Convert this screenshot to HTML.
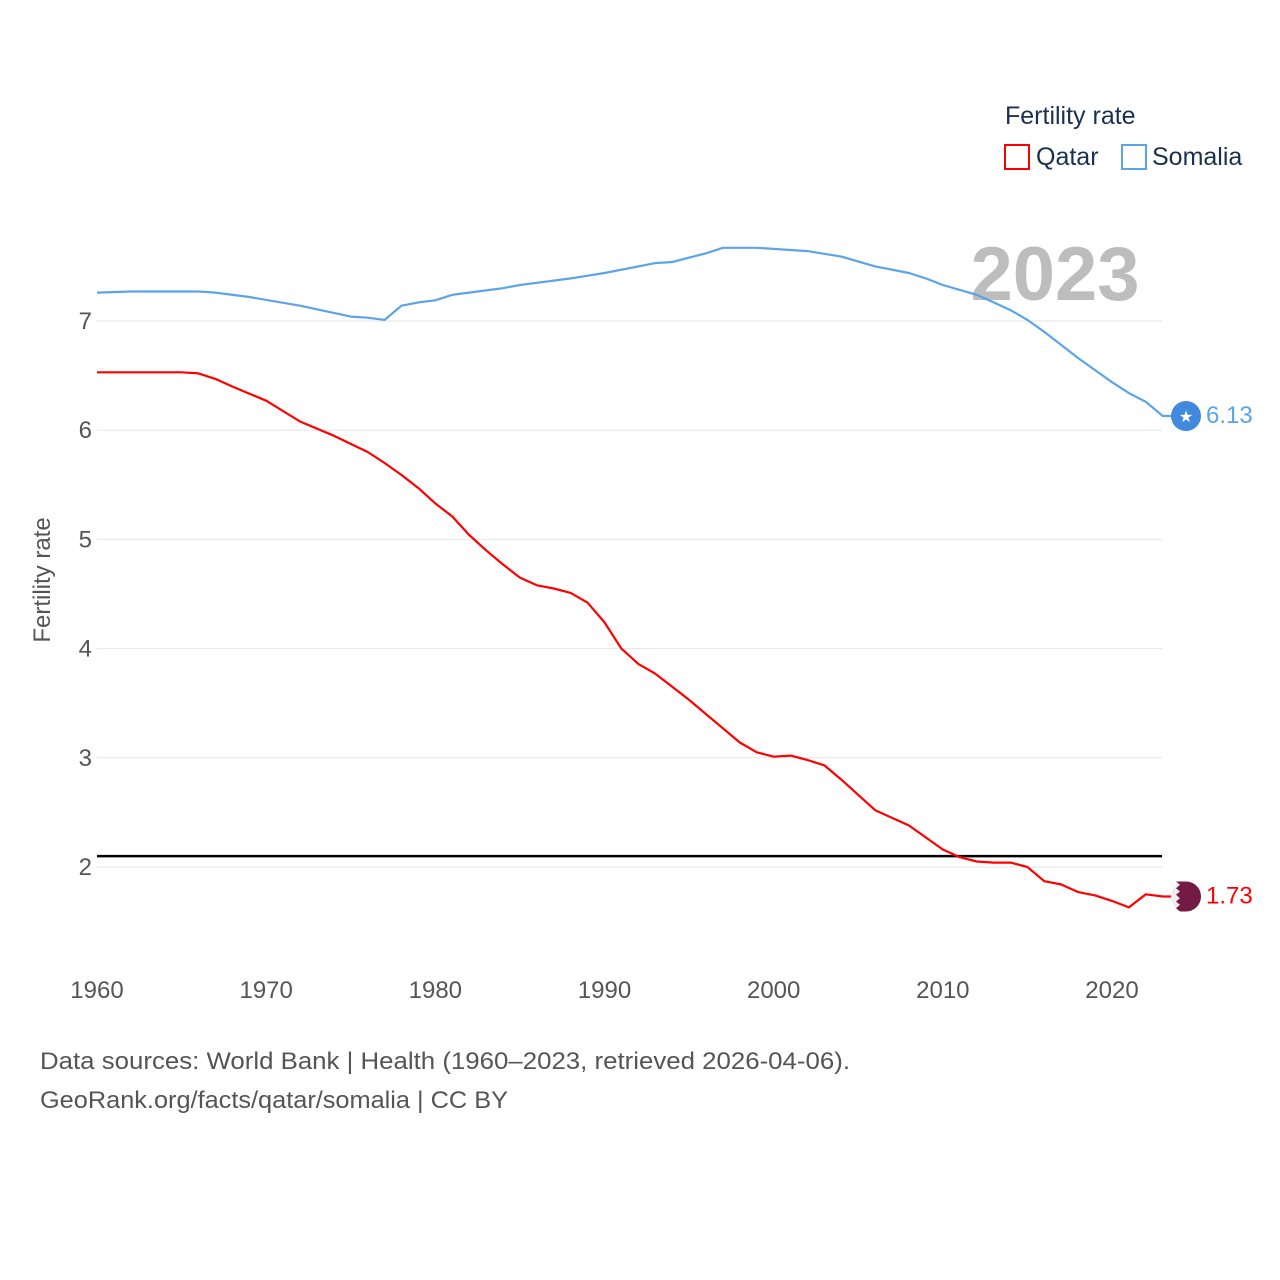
<!DOCTYPE html>
<html><head><meta charset="utf-8"><style>
body{margin:0;background:#fff;font-family:"Liberation Sans",sans-serif}
svg{display:block}
</style></head><body>
<svg id="chart" width="1280" height="1280">
<text x="1055" y="300" font-size="76" font-weight="bold" fill="#bdbdbd" text-anchor="middle">2023</text>
<g id="grid"></g>
<g id="xt"></g>
<text transform="translate(50,580) rotate(-90)" font-size="24" fill="#555" text-anchor="middle">Fertility rate</text>
<g>
<text x="1005" y="124" font-size="25" fill="#1a3050">Fertility rate</text>
<rect x="1005" y="145" width="24" height="24" fill="none" stroke="#f00" stroke-width="2"/>
<text x="1036" y="165" font-size="25" fill="#1a3050">Qatar</text>
<rect x="1122" y="145" width="24" height="24" fill="none" stroke="#5ba4ea" stroke-width="2"/>
<text x="1152" y="165" font-size="25" fill="#1a3050">Somalia</text>
</g>
<g id="series"></g>
<text x="40" y="1069" font-size="24" fill="#555" textLength="810" lengthAdjust="spacingAndGlyphs">Data sources: World Bank | Health (1960–2023, retrieved 2026-04-06).</text>
<text x="40" y="1108" font-size="24" fill="#555" textLength="468" lengthAdjust="spacingAndGlyphs">GeoRank.org/facts/qatar/somalia | CC BY</text>
</svg>
<script>
const somaliaKeys=[1960,1962,1966,1967,1969,1972,1975,1976,1977,1978,1979,1980,1981,1982,1983,1984,1985,1986,1987,1988,1990,1992,1993,1994,1996,1997,1999,2002,2004,2006,2008,2009,2010,2012,2013,2014,2015,2016,2017,2018,2019,2020,2021,2022,2023];
const somaliaVals=[7.26,7.27,7.27,7.26,7.22,7.14,7.04,7.03,7.01,7.14,7.17,7.19,7.24,7.26,7.28,7.30,7.33,7.35,7.37,7.39,7.44,7.50,7.53,7.54,7.62,7.67,7.67,7.64,7.59,7.50,7.44,7.39,7.33,7.24,7.17,7.10,7.01,6.90,6.78,6.66,6.55,6.44,6.34,6.26,6.13];
const qatarKeys=[1960,1965,1966,1967,1968,1970,1972,1974,1976,1977,1978,1979,1980,1981,1982,1983,1984,1985,1986,1987,1988,1989,1990,1991,1992,1993,1994,1995,1996,1997,1998,1999,2000,2001,2002,2003,2004,2005,2006,2007,2008,2009,2010,2011,2012,2013,2014,2015,2016,2017,2018,2019,2020,2021,2022,2023];
const qatarVals=[6.53,6.53,6.52,6.47,6.40,6.27,6.08,5.95,5.80,5.70,5.59,5.47,5.33,5.21,5.04,4.90,4.77,4.65,4.58,4.55,4.51,4.42,4.24,4.00,3.86,3.77,3.65,3.53,3.40,3.27,3.14,3.05,3.01,3.02,2.98,2.93,2.80,2.66,2.52,2.45,2.38,2.27,2.16,2.09,2.05,2.04,2.04,2.00,1.87,1.84,1.77,1.74,1.69,1.63,1.75,1.73];
const yTicks=[2,3,4,5,6,7];
const xTicks=[1960,1970,1980,1990,2000,2010,2020];
const replacement=2.1;
const X=y=>97+(y-1960)*(1112-97)/60;
const Y=v=>867-(v-2)*(867-321)/5;
const NS="http://www.w3.org/2000/svg";
function mk(t,a,p){const e=document.createElementNS(NS,t);for(const k in a)e.setAttribute(k,a[k]);p.appendChild(e);return e;}
const grid=document.getElementById('grid'),xt=document.getElementById('xt'),ser=document.getElementById('series');
yTicks.forEach(v=>{
 const l=mk('line',{x1:97,x2:1162,y1:Y(v),y2:Y(v),stroke:'#e6e6e6','stroke-width':1},grid);
 
 
 const t=mk('text',{x:92,y:Y(v)+8,'font-size':24,fill:'#555','text-anchor':'end'},grid);
 t.textContent=v;
 
 
});
xTicks.forEach(v=>{
 const t=mk('text',{x:X(v),y:998,'font-size':24,fill:'#555','text-anchor':'middle'},xt);
 t.textContent=v;
 
 
});
const ref=mk('line',{x1:97,x2:1162,y1:Y(replacement),y2:Y(replacement),stroke:'#000','stroke-width':2.5},ser);


function line(keys,vals,col,name){
 const d=keys.map((k,i)=>(i?'L':'M')+X(k).toFixed(1)+','+Y(vals[i]).toFixed(1)).join(' ')+' L1176,'+Y(vals[vals.length-1]).toFixed(1);
 const p=mk('path',{d:d,fill:'none',stroke:col,'stroke-width':2.2,'stroke-linejoin':'round'},ser);
 
 
 const last=vals[vals.length-1];
 const t=mk('text',{x:1206,y:Y(last)+7,'font-size':24,fill:col},ser);
 t.textContent=last.toFixed(2);
 
 
 return Y(last);
}
const sy=line(somaliaKeys,somaliaVals,'#5ba4ea','somalia');
const qy=line(qatarKeys,qatarVals,'#f00','qatar');
const sm=mk('g',{},ser);


mk('circle',{cx:1186,cy:sy,r:15,fill:'#4189dd'},sm);
const st=mk('text',{x:1186,y:sy+6,'font-size':16,fill:'#fff','text-anchor':'middle'},sm);st.textContent='★';
const qm=mk('g',{},ser);


mk('circle',{cx:1186,cy:qy,r:15,fill:'#eee'},qm);
mk('path',{d:`M1186,${qy-15} A15,15 0 0 1 1186,${qy+15} L1180,${qy+15} `+[...Array(9)].map((_,i)=>`L${i%2?1180:1176},${(qy+15-(i+1)*30/9).toFixed(1)}`).join(' ')+' Z',fill:'#741b45'},qm);
</script>
</body></html>
